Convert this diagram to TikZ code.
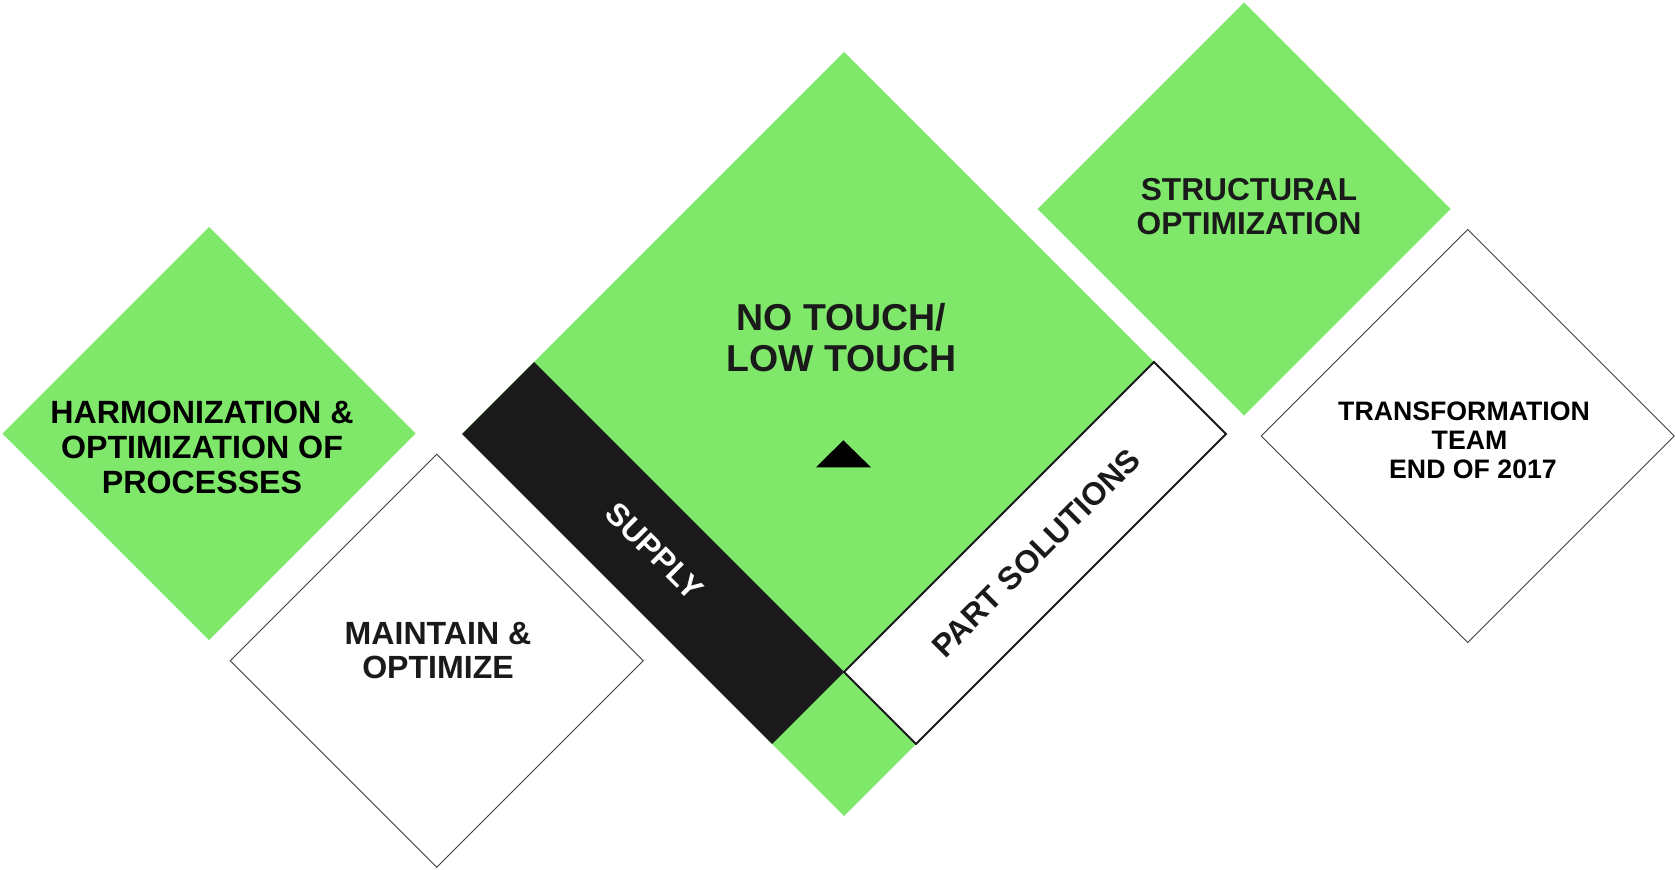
\documentclass[tikz,border=0pt]{standalone}
\usepackage{fontspec}
\setmainfont{Liberation Sans}
\usetikzlibrary{shapes.geometric}
\definecolor{lgreen}{RGB}{127,232,106}
\definecolor{ink}{RGB}{26,26,26}
\begin{document}
\begin{tikzpicture}[x=1bp,y=-1bp,
  dia/.style={diamond, aspect=1, inner sep=0pt, outer sep=0pt, minimum width=#1, minimum height=#1},
  greendia/.style={dia=413bp, fill=lgreen},
  whitedia/.style={dia=413bp, fill=white, draw=ink!85!white, line width=0.9bp},
  txt/.style={inner sep=0pt, align=center},
  bandline/.style={draw=ink, line width=1.8bp, line join=miter}]
\useasboundingbox (0,0) rectangle (1675,869);

% small diamonds
\node[greendia] (g1) at (209,433.5) {};
\node[whitedia] (w1) at (436.7,660.8) {};
\node[greendia] (g2) at (1244,209) {};
\node[whitedia] (w2) at (1467.7,436) {};

% big diamond
\coordinate (T)  at (844,52);
\coordinate (OL) at (462,434);
\coordinate (OR) at (1226,434);
\coordinate (OB) at (844,816);
\coordinate (IL) at (534,362);
\coordinate (IR) at (1154,362);
\coordinate (IB) at (844,672);
\coordinate (BL) at (772,744);
\coordinate (BR) at (916,744);
\fill[lgreen] (T) -- (OR) -- (OB) -- (OL) -- cycle;
\fill[ink] (IL) -- (OL) -- (BL) -- (IB) -- cycle;
\filldraw[fill=white, bandline] (IB) -- (IR) -- (OR) -- (BR) -- cycle;

% triangle
\coordinate (tA) at (843.3,440.3);
\coordinate (tL) at (816,467.3);
\coordinate (tR) at (871,467.3);
\fill[black] (tA) -- (tL) -- (tR) -- cycle;

% texts
\node[txt, font=\bfseries\fontsize{32.3}{35}\selectfont, text=black] (harm) at (202,447.5)
  {HARMONIZATION \&\\OPTIMIZATION OF\\PROCESSES};
\node[txt, font=\bfseries\fontsize{32.2}{34}\selectfont, text=ink] (maint) at (438,650.2)
  {MAINTAIN \&\\OPTIMIZE};
\node[txt, font=\bfseries\fontsize{37.6}{41}\selectfont, text=ink] (touch) at (841.5,337.5)
  {NO TOUCH/\\LOW TOUCH};
\node[txt, font=\bfseries\fontsize{31.8}{34.3}\selectfont, text=ink] (struct) at (1249,206.7)
  {STRUCTURAL\\OPTIMIZATION};
\node[txt, font=\bfseries\fontsize{26.8}{29.3}\selectfont, text=black] (trans) at (1464,440)
  {TRANSFORMATION\\\hspace*{11bp}TEAM\\\hspace*{18bp}END OF 2017};
\node[txt, font=\bfseries\fontsize{31.5}{33}\selectfont, text=white, rotate=-45] (supply) at (655,551)
  {SUPPLY};
\node[txt, font=\bfseries\fontsize{32}{33}\selectfont, text=ink, rotate=45] (part) at (1036,553)
  {PART SOLUTIONS};
\end{tikzpicture}
\end{document}
